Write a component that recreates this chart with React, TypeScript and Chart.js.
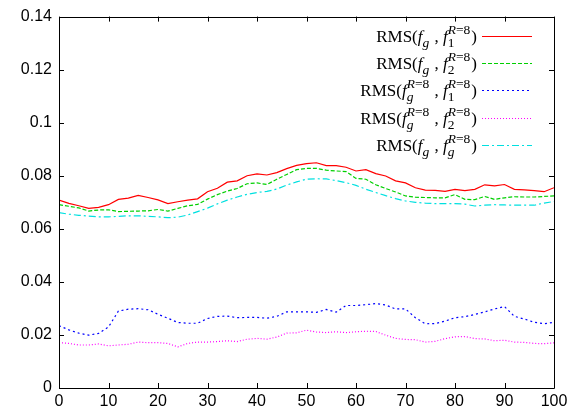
import React, { useEffect, useRef } from "react";
import { Chart, registerables } from "chart.js";

Chart.register(...registerables);

const xs = [0, 2, 4, 6, 8, 10, 12, 14, 16, 18, 20, 22, 24, 26, 28, 30, 32, 34, 36, 38, 40, 42, 44, 46, 48, 50, 52, 54, 56, 58, 60, 62, 64, 66, 68, 70, 72, 74, 76, 78, 80, 82, 84, 86, 88, 90, 92, 94, 96, 98, 100];

const rmsG1 = [0.0708, 0.0696, 0.0687, 0.0677, 0.0681, 0.0691, 0.0711, 0.0716, 0.0726, 0.0718, 0.0709, 0.0695, 0.0702, 0.0708, 0.0713, 0.0740, 0.0753, 0.0776, 0.0781, 0.0800, 0.0807, 0.0803, 0.0812, 0.0827, 0.0839, 0.0846, 0.0849, 0.0838, 0.0838, 0.0832, 0.0818, 0.0823, 0.0808, 0.0799, 0.0781, 0.0773, 0.0755, 0.0746, 0.0745, 0.0741, 0.0749, 0.0744, 0.0749, 0.0766, 0.0762, 0.0767, 0.0749, 0.0747, 0.0744, 0.0740, 0.0755];

const rmsG2 = [0.0691, 0.0685, 0.0679, 0.0667, 0.0671, 0.0672, 0.0665, 0.0666, 0.0667, 0.0668, 0.0673, 0.0667, 0.0677, 0.0687, 0.0692, 0.0712, 0.0729, 0.0742, 0.0752, 0.0770, 0.0773, 0.0767, 0.0787, 0.0805, 0.0823, 0.0828, 0.0828, 0.0821, 0.0818, 0.0816, 0.0790, 0.0787, 0.0766, 0.0752, 0.0739, 0.0724, 0.0719, 0.0718, 0.0717, 0.0717, 0.0729, 0.0711, 0.0710, 0.0722, 0.0711, 0.0717, 0.0721, 0.0720, 0.0720, 0.0722, 0.0724];

const rmsR1 = [0.0235, 0.0219, 0.0207, 0.0199, 0.0206, 0.0230, 0.0290, 0.0297, 0.0299, 0.0295, 0.0278, 0.0263, 0.0247, 0.0244, 0.0244, 0.0262, 0.0270, 0.0271, 0.0265, 0.0266, 0.0266, 0.0263, 0.0270, 0.0287, 0.0287, 0.0287, 0.0285, 0.0296, 0.0286, 0.0311, 0.0311, 0.0314, 0.0318, 0.0313, 0.0298, 0.0298, 0.0265, 0.0242, 0.0243, 0.0252, 0.0265, 0.0269, 0.0277, 0.0287, 0.0298, 0.0307, 0.0270, 0.0260, 0.0248, 0.0242, 0.0248];

const rmsR2 = [0.0171, 0.0168, 0.0162, 0.0162, 0.0166, 0.0159, 0.0162, 0.0165, 0.0173, 0.0171, 0.0171, 0.0168, 0.0155, 0.0168, 0.0173, 0.0173, 0.0175, 0.0178, 0.0175, 0.0184, 0.0187, 0.0184, 0.0192, 0.0207, 0.0208, 0.0218, 0.0211, 0.0209, 0.0212, 0.0209, 0.0212, 0.0214, 0.0213, 0.0199, 0.0187, 0.0183, 0.0182, 0.0173, 0.0176, 0.0186, 0.0193, 0.0194, 0.0186, 0.0185, 0.0178, 0.0180, 0.0173, 0.0172, 0.0168, 0.0167, 0.0170];

const rmsGG = [0.0661, 0.0655, 0.0651, 0.0648, 0.0645, 0.0645, 0.0647, 0.0649, 0.0649, 0.0647, 0.0645, 0.0642, 0.0644, 0.0652, 0.0665, 0.0678, 0.0694, 0.0708, 0.0720, 0.0730, 0.0737, 0.0741, 0.0750, 0.0765, 0.0777, 0.0787, 0.0789, 0.0788, 0.0782, 0.0774, 0.0764, 0.0749, 0.0737, 0.0725, 0.0714, 0.0705, 0.0700, 0.0697, 0.0695, 0.0695, 0.0695, 0.0693, 0.0686, 0.0689, 0.0691, 0.0690, 0.0689, 0.0689, 0.0689, 0.0697, 0.0703];

const seriesLabels = [
  "RMS(f_g, f_1^R=8)",
  "RMS(f_g, f_2^R=8)",
  "RMS(f_g^R=8, f_1^R=8)",
  "RMS(f_g^R=8, f_2^R=8)",
  "RMS(f_g, f_g^R=8)",
];
const seriesColors = ["#ff0000", "#00d000", "#0000ff", "#ff00ff", "#00e0e0"];
const seriesDashes: number[][] = [[], [4, 2], [2, 3], [1, 2], [7, 3, 2, 3]];
const seriesValues = [rmsG1, rmsG2, rmsR1, rmsR2, rmsGG];

const xTicks = [0, 10, 20, 30, 40, 50, 60, 70, 80, 90, 100];
const yTicks = [0, 0.02, 0.04, 0.06, 0.08, 0.1, 0.12, 0.14];

type Run = { t: string; i?: boolean };
type Seg = { runs?: Run[]; sup?: Run[]; sub?: Run[] };

const R8: Run[] = [{ t: "R", i: true }, { t: "=8" }];
const legendRich: Seg[][] = [
  [{ runs: [{ t: "RMS(" }, { t: "f", i: true }] }, { sub: [{ t: "g", i: true }] }, { runs: [{ t: " , " }, { t: "f", i: true }] }, { sup: R8, sub: [{ t: "1" }] }, { runs: [{ t: ")" }] }],
  [{ runs: [{ t: "RMS(" }, { t: "f", i: true }] }, { sub: [{ t: "g", i: true }] }, { runs: [{ t: " , " }, { t: "f", i: true }] }, { sup: R8, sub: [{ t: "2" }] }, { runs: [{ t: ")" }] }],
  [{ runs: [{ t: "RMS(" }, { t: "f", i: true }] }, { sup: R8, sub: [{ t: "g", i: true }] }, { runs: [{ t: " , " }, { t: "f", i: true }] }, { sup: R8, sub: [{ t: "1" }] }, { runs: [{ t: ")" }] }],
  [{ runs: [{ t: "RMS(" }, { t: "f", i: true }] }, { sup: R8, sub: [{ t: "g", i: true }] }, { runs: [{ t: " , " }, { t: "f", i: true }] }, { sup: R8, sub: [{ t: "2" }] }, { runs: [{ t: ")" }] }],
  [{ runs: [{ t: "RMS(" }, { t: "f", i: true }] }, { sub: [{ t: "g", i: true }] }, { runs: [{ t: " , " }, { t: "f", i: true }] }, { sup: R8, sub: [{ t: "g", i: true }] }, { runs: [{ t: ")" }] }],
];

const SERIF = '"Liberation Serif", "Times New Roman", serif';
const MAIN = 17;
const SCRIPT = 13.5;
const fontOf = (size: number, italic?: boolean) => `${italic ? "italic " : ""}${size}px ${SERIF}`;

function runsWidth(ctx: CanvasRenderingContext2D, runs: Run[], size: number) {
  let w = 0;
  for (const r of runs) {
    ctx.font = fontOf(size, r.i);
    w += ctx.measureText(r.t).width;
  }
  return w;
}
function drawRuns(ctx: CanvasRenderingContext2D, runs: Run[], size: number, x: number, y: number) {
  for (const r of runs) {
    ctx.font = fontOf(size, r.i);
    ctx.fillText(r.t, x, y);
    x += ctx.measureText(r.t).width;
  }
}
function segWidth(ctx: CanvasRenderingContext2D, s: Seg) {
  if (s.runs) return runsWidth(ctx, s.runs, MAIN);
  return Math.max(s.sup ? runsWidth(ctx, s.sup, SCRIPT) : 0, s.sub ? runsWidth(ctx, s.sub, SCRIPT) : 0) + 1;
}

const framePlugin = {
  id: "gnuplotFrame",
  afterDraw(chart: any) {
    const { ctx, chartArea, scales } = chart;
    const { left, right, top, bottom } = chartArea;
    ctx.save();
    ctx.strokeStyle = "#000";
    ctx.lineWidth = 1;
    ctx.beginPath();
    ctx.rect(Math.round(left) + 0.5, Math.round(top) + 0.5, Math.round(right - left), Math.round(bottom - top));
    const tl = 5;
    for (const v of xTicks) {
      const px = Math.round(scales.x.getPixelForValue(v)) + 0.5;
      ctx.moveTo(px, bottom);
      ctx.lineTo(px, bottom - tl);
      ctx.moveTo(px, top);
      ctx.lineTo(px, top + tl);
    }
    for (const v of yTicks) {
      const py = Math.round(scales.y.getPixelForValue(v)) + 0.5;
      ctx.moveTo(left, py);
      ctx.lineTo(left + tl, py);
      ctx.moveTo(right, py);
      ctx.lineTo(right - tl, py);
    }
    ctx.stroke();

    // legend
    const textRight = 477;
    const lineX0 = 482;
    const lineX1 = 532;
    const rowY = [36, 63, 90, 117.5, 145];
    ctx.fillStyle = "#000";
    ctx.textBaseline = "alphabetic";
    ctx.textAlign = "left";
    legendRich.forEach((segs, k) => {
      const y = rowY[k];
      const base = y + 6;
      let total = 0;
      for (const s of segs) total += segWidth(ctx, s);
      let x = textRight - total;
      for (const s of segs) {
        if (s.runs) {
          drawRuns(ctx, s.runs, MAIN, x, base);
        } else {
          if (s.sup) drawRuns(ctx, s.sup, SCRIPT, x, base - 8);
          if (s.sub) drawRuns(ctx, s.sub, SCRIPT, x, base + 5);
        }
        x += segWidth(ctx, s);
      }
      ctx.beginPath();
      ctx.strokeStyle = seriesColors[k];
      ctx.lineWidth = 1.2;
      ctx.setLineDash(seriesDashes[k]);
      ctx.moveTo(lineX0, Math.round(y) + 0.5);
      ctx.lineTo(lineX1, Math.round(y) + 0.5);
      ctx.stroke();
      ctx.setLineDash([]);
    });
    ctx.restore();
  },
};

export default function App() {
  const ref = useRef<HTMLCanvasElement | null>(null);
  useEffect(() => {
    document.body.style.margin = "0";
    const canvas = ref.current;
    if (!canvas) return;
    const chart = new Chart(canvas, {
      type: "line",
      data: {
        datasets: seriesValues.map((vals, k) => ({
          label: seriesLabels[k],
          data: xs.map((x, i) => ({ x, y: vals[i] })),
          borderColor: seriesColors[k],
          backgroundColor: seriesColors[k],
          borderWidth: 1.2,
          borderDash: seriesDashes[k],
          pointRadius: 0,
          tension: 0,
          fill: false,
        })),
      },
      options: {
        animation: false,
        responsive: false,
        devicePixelRatio: 1,
        layout: { padding: { top: 16, right: 18, left: 0, bottom: 0 } },
        plugins: { legend: { display: false }, tooltip: { enabled: false } },
        scales: {
          x: {
            type: "linear",
            min: 0,
            max: 100,
            afterFit: (s: any) => {
              s.height = 32;
            },
            afterBuildTicks: (s: any) => {
              s.ticks = xTicks.map((v) => ({ value: v }));
            },
            ticks: {
              color: "#000",
              padding: 4,
              maxRotation: 0,
              font: { family: '"Liberation Sans", Arial, sans-serif', size: 16 },
            },
            grid: { display: false, drawTicks: false },
            border: { display: false },
          },
          y: {
            type: "linear",
            min: 0,
            max: 0.14,
            afterFit: (s: any) => {
              s.width = 59;
            },
            afterBuildTicks: (s: any) => {
              s.ticks = yTicks.map((v) => ({ value: v }));
            },
            ticks: {
              color: "#000",
              padding: 7,
              callback: (v: any) => String(parseFloat(Number(v).toFixed(2))),
              font: { family: '"Liberation Sans", Arial, sans-serif', size: 16 },
            },
            grid: { display: false, drawTicks: false },
            border: { display: false },
          },
        },
      },
      plugins: [framePlugin],
    });
    return () => chart.destroy();
  }, []);
  return (
    <div style={{ width: 572, height: 420 }}>
      <canvas ref={ref} width={572} height={420} style={{ display: "block" }} />
    </div>
  );
}
